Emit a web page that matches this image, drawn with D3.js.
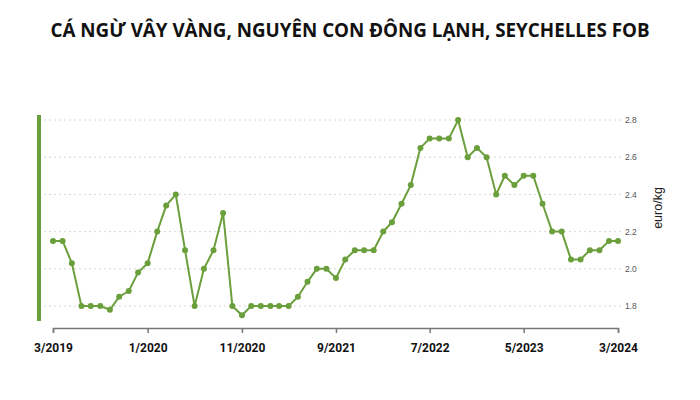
<!DOCTYPE html>
<html>
<head>
<meta charset="utf-8">
<script src="https://cdn.jsdelivr.net/npm/d3@7"></script>
<style>
  body { margin: 0; background: #fff; }
  svg { display: block; }
</style>
</head>
<body>
<svg id="chart" width="700" height="400"></svg>
<script>
// monthly prices, 3/2019 .. 3/2024
var startYear = 2019, startMonth = 3;
var prices = [
  2.15, 2.15, 2.03, 1.80, 1.80, 1.80, 1.78, 1.85, 1.88, 1.98,
  2.03, 2.20, 2.34, 2.40, 2.10, 1.80, 2.00, 2.10, 2.30, 1.80,
  1.75, 1.80, 1.80, 1.80, 1.80, 1.80, 1.85, 1.93, 2.00, 2.00,
  1.95, 2.05, 2.10, 2.10, 2.10, 2.20, 2.25, 2.35, 2.45, 2.65,
  2.70, 2.70, 2.70, 2.80, 2.60, 2.65, 2.60, 2.40, 2.50, 2.45,
  2.50, 2.50, 2.35, 2.20, 2.20, 2.05, 2.05, 2.10, 2.10, 2.15,
  2.15
];
var yTicks = [1.8, 2.0, 2.2, 2.4, 2.6, 2.8];
var xTickIdx = [0, 10, 20, 30, 40, 50, 60];
var title = "CÁ NGỪ VÂY VÀNG, NGUYÊN CON ĐÔNG LẠNH, SEYCHELLES FOB";
var unit = "euro/kg";

var green = "#6a9f3c";

var data = prices.map(function(v, i) {
  var m = startMonth - 1 + i;
  return { date: new Date(startYear + Math.floor(m / 12), m % 12, 1), value: v };
});

var svg = d3.select("#chart");

var x = d3.scaleTime()
  .domain(d3.extent(data, function(d) { return d.date; }))
  .range([53, 618]);

var y = d3.scaleLinear()
  .domain([1.8, 2.8])
  .range([306, 120]);

// title
svg.append("text")
  .attr("x", 350)
  .attr("y", 37)
  .attr("text-anchor", "middle")
  .attr("font-family", "Open Sans, sans-serif")
  .attr("font-weight", "bold")
  .attr("font-size", 18.8)
  .attr("fill", "#111")
  .text(title);

// grid lines
svg.append("g")
  .selectAll("line")
  .data(yTicks)
  .enter()
  .append("line")
  .attr("x1", 44)
  .attr("x2", 622)
  .attr("y1", function(d) { return y(d); })
  .attr("y2", function(d) { return y(d); })
  .attr("stroke", "#d6d6d6")
  .attr("stroke-width", 1)
  .attr("stroke-dasharray", "2,3");

// right axis labels
var yAxis = d3.axisRight(y)
  .tickValues(yTicks)
  .tickFormat(d3.format(".1f"))
  .tickSize(0)
  .tickPadding(0);

var yg = svg.append("g")
  .attr("transform", "translate(625,0)")
  .call(yAxis);
yg.select(".domain").remove();
yg.selectAll("text")
  .attr("font-family", "Liberation Sans, Arial, sans-serif")
  .attr("font-size", 8.5)
  .attr("fill", "#555");

svg.append("text")
  .attr("transform", "translate(662,208) rotate(-90)")
  .attr("text-anchor", "middle")
  .attr("font-family", "Liberation Sans, Arial, sans-serif")
  .attr("font-size", 12.5)
  .attr("fill", "#222")
  .text(unit);

// left accent bar
svg.append("rect")
  .attr("x", 37)
  .attr("y", 115)
  .attr("width", 4)
  .attr("height", 206)
  .attr("fill", green);

// bottom axis
var xAxis = d3.axisBottom(x)
  .tickValues(xTickIdx.map(function(i) { return data[i].date; }))
  .tickFormat(function(d) { return (d.getMonth() + 1) + "/" + d.getFullYear(); })
  .tickSizeOuter(0)
  .tickSize(5)
  .tickPadding(10);

var xg = svg.append("g")
  .attr("transform", "translate(0,328)")
  .call(xAxis);
xg.select(".domain").attr("stroke", "#777").attr("stroke-width", 1.5);
xg.selectAll(".tick line").attr("stroke", "#777").attr("stroke-width", 1.5);
xg.selectAll("text")
  .attr("font-family", "Roboto, sans-serif")
  .attr("font-weight", "bold")
  .attr("font-size", 12)
  .attr("fill", "#111");

// line and points
var line = d3.line()
  .x(function(d) { return x(d.date); })
  .y(function(d) { return y(d.value); });

svg.append("path")
  .datum(data)
  .attr("fill", "none")
  .attr("stroke", green)
  .attr("stroke-width", 2)
  .attr("d", line);

svg.append("g")
  .selectAll("circle")
  .data(data)
  .enter()
  .append("circle")
  .attr("cx", function(d) { return x(d.date); })
  .attr("cy", function(d) { return y(d.value); })
  .attr("r", 3)
  .attr("fill", green);
</script>
</body>
</html>
